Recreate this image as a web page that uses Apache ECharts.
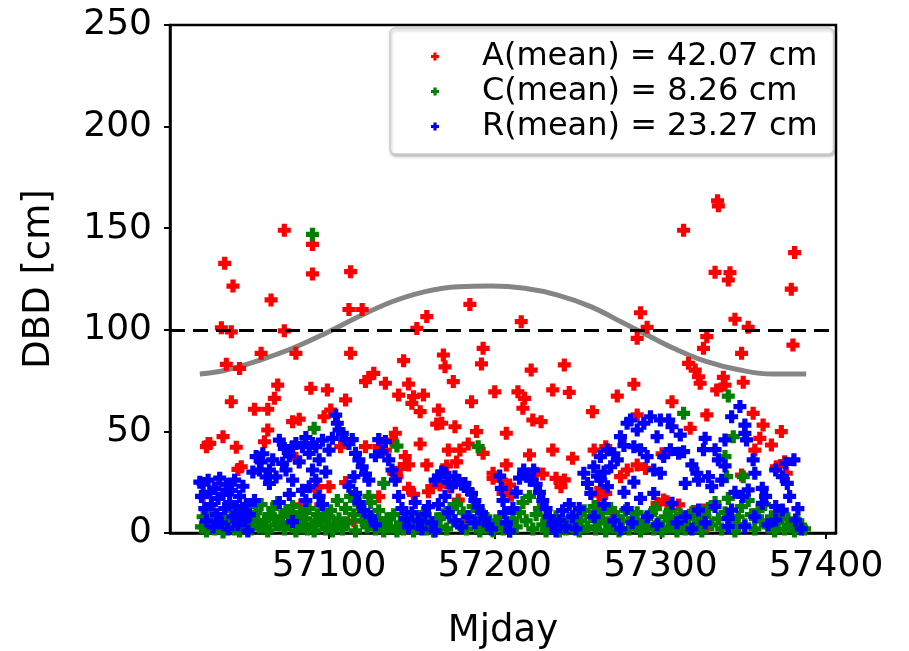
<!DOCTYPE html>
<html>
<head>
<meta charset="utf-8">
<script src="https://cdn.jsdelivr.net/npm/echarts@6/dist/echarts.min.js"></script>
<style>
html,body{margin:0;padding:0;background:#fff;}
#chart{width:909px;height:651px;}
</style>
</head>
<body>
<div id="chart"></div>
<script>
// ---------- data ----------
const xTicks = [57100, 57200, 57300, 57400];
const yTicks = [0, 50, 100, 150, 200, 250];
const threshold = 100;

// grey seasonal curve [Mjday, DBD]
const curveDays = [57022, 57038, 57058, 57078, 57098, 57118, 57138, 57158, 57178, 57198, 57218, 57238, 57258, 57278, 57292, 57308, 57328, 57348, 57368, 57388];
const curveVals = [78.2, 80.2, 85.0, 90.9, 98.3, 106.5, 113.8, 118.8, 121.2, 121.5, 120.4, 117.1, 111.4, 103.2, 97.4, 90.9, 84.3, 80.2, 78.2, 78.2];

// A (red)
const seriesA = [
[57073,149],[57090,142],[57037,132.7],[57042,121.5],[57090,127.5],[57113,128.6],[57065,114.7],[57112,110],[57120,110],
[57159,106.5],[57185,112.5],[57035,101],[57041,99],[57073,99.5],[57153,100.7],[57059,88.4],[57080,88.4],[57113,88.4],
[57038,83],[57046,81],[57145,84.8],[57169,87.6],[57170,81.8],[57193,90.9],[57192,83.2],[57175,74.5],[57200,69.5],
[57122,74.5],[57124,76.5],[57127,78.6],[57134,73.7],[57148,73.3],[57069,72.8],[57067,66.3],[57089,71.2],[57099,70.4],
[57041,64.6],[57055,60.9],[57063,60.9],[57110,65.5],[57142,67.9],[57151,67.1],[57157,67.9],[57150,63.8],[57155,59.7],
[57186,64.6],[57166,60.5],[57078,54.8],[57082,56],[57097,57.2],[57101,60.5],[57165,53.6],[57168,54],[57176,52.3],
[57063,50.7],[57189,49.9],[57027,44.1],[57036,47.4],[57044,42.2],[57061,44.9],[57107,42.5],[57122,42.5],[57130,42.5],
[57140,49.1],[57155,43.8],[57172,40.8],[57179,40.8],[57184,43.8],[57193,39.2],[57045,31.3],[57047,32.6],[57080,36.8],
[57146,37.6],[57148,33.5],[57143,31.8],[57159,33.5],[57171,33],[57199,29.4],[57033,23.6],[57024,17.9],[57093,22.8],
[57100,22.8],[57083,13.8],[57095,13.8],[57148,22],[57160,20.3],[57167,23.6],[57173,22.8],[57110,24.8],[57139,29.4],
[57138,45.7],[57134,40.8],[57177,35],[57141,27.7],[57151,19],[57162,22.8],[57204,26],[57178,16.2],[57130,17.9],
[57026,42.5],[57028,44.1],[57092,21.2],
[57314,149],[57381,138],[57333,128.3],[57342,128.1],[57341,124.5],[57379,120],[57288,108.4],[57216,104],[57345,105.2],
[57353,101.2],[57292,101.2],[57286,95.8],[57328,96.6],[57326,90.9],[57380,92.5],[57349,88.4],[57317,83.5],[57321,80.2],
[57323,76.9],[57324,73.7],[57338,76.6],[57339,72.8],[57334,70.4],[57350,74.2],[57222,80.2],[57242,82.7],[57214,69.5],
[57218,66.3],[57217,61.4],[57235,70.4],[57245,69.2],[57274,67.4],[57284,73.2],[57307,64.6],[57259,59.7],[57328,58.1],
[57356,58.9],[57223,55.6],[57228,54.8],[57207,49.1],[57318,51.5],[57362,53.1],[57373,49.9],[57360,46.6],[57367,43.3],
[57221,38.4],[57235,40.8],[57247,36.8],[57260,40.8],[57267,42.5],[57286,33.5],[57291,31.8],[57207,33.5],[57225,29.4],
[57237,26.9],[57242,26.1],[57240,22.8],[57199,26.9],[57209,23.6],[57205,19.5],[57311,13.8],[57302,16.2],[57298,14.6],
[57357,40.8],[57370,32.6],[57376,29.4],[57375,35.1],[57349,28.5],[57264,22],[57267,19.5],[57334.5,163.5],[57335,161],
[57286,58.1],[57229,29],[57210,18.6],[57263,18.6],[57262,13.1],[57280,31],[57276,27.7],[57301,39],[57271,10],
[57326,11.3],[57327,5],[57320,10.6],[57304,15.4],[57328,3],[57030,10],[57052,7],[57115,6],[57182,5],[57232,8],
[57290,6],[57346,4],[57371,9]
];

// C (green)
const seriesC = [
[57090,147],[57091,51.5],[57141,42.8],[57190,42.5],[57314,58.9],[57341,67.4],[57344,47.4],[57340,27.7],[57339,37.6],
[57133,24.4],[57124,18],[57350,27.7],
[57023,3],[57024,8],[57026,1],[57027,12],[57029,5],[57031,2],[57032,9],[57034,4],[57036,0.5],[57037,7],[57039,3],
[57041,11],[57043,2],[57044,6],[57046,1],[57048,9],[57049,4],[57051,13],[57053,2],[57054,7],[57056,10],[57058,3],
[57059,14],[57061,6],[57063,1],[57064,9],[57066,12],[57068,4],[57069,15],[57071,8],[57073,2],[57074,11],[57076,5],
[57078,13],[57080,1],[57081,8],[57083,10],[57085,3],[57086,7],[57088,12],[57090,4],[57091,1],[57093,9],[57095,6],
[57096,14],[57098,2],[57100,8],[57101,11],[57103,4],[57105,16],[57106,7],[57108,2],[57110,12],[57111,5],[57113,18],
[57115,9],[57116,1],[57118,14],[57120,6],[57121,10],[57123,3],[57125,15],[57126,8],[57128,2],[57130,11],[57131,5],
[57133,1],[57135,7],[57137,3],[57139,9],[57141,1],[57143,5],[57145,2],[57147,8],[57149,4],[57151,1],[57153,6],
[57155,3],[57157,10],[57159,2],[57161,5],[57163,1],[57165,7],[57167,3],[57169,9],[57171,2],[57173,12],[57175,6],
[57177,14],[57179,4],[57181,10],[57183,2],[57185,8],[57187,13],[57189,5],[57191,1],[57193,9],[57195,3],[57197,6],
[57199,1],[57201,4],[57203,8],[57205,2],[57207,5],[57209,1],[57211,7],[57213,3],[57215,10],[57217,15],[57219,6],
[57221,18],[57223,2],[57225,9],[57227,12],[57229,4],[57231,1],[57233,6],[57235,3],[57237,8],[57239,1],[57241,5],
[57243,2],[57245,7],[57247,3],[57249,9],[57251,1],[57252,6],[57254,11],[57256,3],[57258,8],[57260,13],[57261,2],
[57263,6],[57265,10],[57267,1],[57268,5],[57270,12],[57272,3],[57274,8],[57275,1],[57277,6],[57279,11],[57281,2],
[57283,7],[57285,4],[57286,10],[57288,1],[57290,6],[57292,3],[57294,9],[57296,2],[57297,12],[57299,5],[57301,1],
[57303,8],[57305,3],[57306,11],[57308,6],[57310,1],[57312,9],[57314,4],[57315,2],[57317,7],[57319,10],[57321,3],
[57323,6],[57325,1],[57327,8],[57329,12],[57331,4],[57333,15],[57335,7],[57337,2],[57339,10],[57341,17],[57343,5],
[57345,1],[57347,8],[57349,13],[57351,4],[57353,16],[57355,9],[57357,2],[57359,11],[57361,6],[57363,14],[57365,3],
[57367,8],[57369,1],[57371,5],[57373,10],[57375,2],[57377,7],[57379,4],[57381,1],[57383,6],[57385,3],[57387,2],
[57057,6],[57062,3],[57067,7],[57072,5],[57077,9],[57082,4],[57087,2],[57092,5],[57097,8],[57102,1]
];

// R (blue)
const seriesR = [
[57022,25],[57023,18],[57024,24.4],[57025,12],[57026,6],[57027,26],[57028,20],[57029,14],[57030,3],[57031,22],
[57032,9],[57033,17],[57034,27],[57035,5],[57036,19],[57037,12],[57038,24],[57039,2],[57040,15],[57041,21],[57042,8],
[57043,26],[57044,13],[57045,4],[57046,18],[57047,10],[57048,23],[57049,6],[57050,14],[57051,1],[57052,9],
[57054,30],[57056,37.6],[57058,31],[57059,35],[57060,39],[57062,27.6],[57064,31],[57064,24.4],[57066,36],[57068,27.6],
[57070,45.7],[57072,34.3],[57073,41.6],[57074,31],[57076,38],[57078,42.5],[57078,26],[57080,44],[57082,35],[57084,42.5],
[57084,21],[57086,47],[57088,39.2],[57088,22.8],[57090,44],[57092,42.5],[57094,36],[57096,45.7],[57098,30],[57100,40.8],
[57102,46.6],[57090,31],[57092,26],[57094,18],[57096,14],[57086,16],[57076,19],[57070,15],
[57055,16],[57078,5.6],
[57104,58],[57105,54],[57106,50.7],[57108,49],[57110,46],[57112,44],[57114,46],[57116,39.2],[57118,36],[57120,32.6],
[57122,29],[57124,26],[57115,27.7],[57112,23],[57116,19.5],[57118,15],[57121,11],[57125,8],[57128,4],
[57130,46],[57134,45],[57132,40],[57136,36],[57138,31],[57140,26],[57128,38],
[57142,18],[57144,12],[57146,7],[57148,3],[57150,10],[57152,15],[57154,6],[57156,2],[57158,9],[57160,13],[57162,5],[57164,1],
[57164,26],[57166,28],[57168,30],[57170,29.4],[57172,25],[57174,22.8],[57176,27.7],[57178,26],[57180,24],[57182,24.4],
[57184,21],[57186,19.5],[57188,16],[57190,13],[57192,10],[57194,7],[57196,4],[57198,2],[57170,18],[57166,14],
[57172,10],[57176,6],[57180,3],[57184,8],[57188,5],
[57203,28],[57204,22],[57205,16],[57206,10],[57207,5],[57209,1],[57211,12],[57213,20],[57215,27],[57217.5,31],
[57220,28],[57221.5,26],[57223.5,31],[57225,24],[57227,20],[57229,16],[57231,12],[57233,8],[57235,4],[57237,1],
[57239,6],[57241,11],[57243,3],[57245,14],[57247,8],[57249,2],
[57251,12],[57253.8,29.4],[57256,24.4],[57258,19.5],[57259.8,32.6],[57262,28],[57263.8,37.6],[57264,26],[57266,30],
[57268,22.8],[57267.9,41],[57270,32.6],[57271.9,39],[57274,36],[57275.9,47.4],[57278,43],[57279.9,54],[57282,55.6],
[57284,42.5],[57286,50.7],[57288,41],[57290,54],[57292,37.6],[57294,57.2],[57296,31],[57298,47.4],[57300,55.6],
[57300,29.4],[57302,37.6],[57296,19.5],[57260,8],[57266,14],[57272,6],[57278,20],[57280,12],[57284,25],[57288,17],
[57292,8],[57298,4],[57276,2],[57283,5],
[57305,55.6],[57307,52.3],[57312,48.2],[57306,41],[57311,39.2],[57314,40],[57319,33.5],[57322,29.4],[57327,46.6],
[57326,41],[57333,41],[57335,36],[57339,45.8],[57343,57.2],[57348,62.2],[57351,53.1],[57352,45.8],[57351,49],
[57329,27.7],[57331,22.8],[57323,26],[57315,24.4],[57339,33],[57337,26],[57356,36],[57357,29.4],[57353,21.2],
[57349.5,18],[57361.5,22],[57363.5,18],[57369.6,31],[57373.6,27.7],[57376.6,24.4],[57380.6,36],[57375.6,34.3],
[57361.5,14.6],[57369.6,13],[57373.6,11.3],[57381.6,6.4],[57369.6,6.4],[57357,8],[57343,11.3],[57341,7.2],[57333,13],
[57323,11.3],[57315,8],[57307,14.6],[57341,3.2],[57351,3.2],[57385,2],[57383,12],[57378,18],[57365,4],[57345,20],
[57327,5],[57319,2],[57310,5]
];

const names = ['A(mean) = 42.07 cm', 'C(mean) = 8.26 cm', 'R(mean) = 23.27 cm'];
const colors = ['#ff0000', '#008000', '#0000ff'];

// ---------- chart ----------
const PLUS = 'path://M3.6,0H8.4V3.6H12V8.4H8.4V12H3.6V8.4H0V3.6H3.6Z';
const FONT = 'DejaVu Sans';
const curve = curveDays.map((d, i) => [d, curveVals[i]]);

const chart = echarts.init(document.getElementById('chart'), null, {renderer: 'canvas'});
chart.setOption({
  animation: false,
  backgroundColor: '#ffffff',
  grid: {left: 170, right: 73, top: 25, bottom: 118, show: true, borderColor: '#000', borderWidth: 2.5,
         containLabel: false, outerBoundsMode: 'none'},
  legend: {
    orient: 'vertical', left: 390, top: 28,
    padding: [11, 16, 10, 41], itemGap: 0,
    itemWidth: 8, itemHeight: 8,
    backgroundColor: '#ffffff', borderColor: '#cccccc', borderWidth: 1.5, borderRadius: 5,
    shadowColor: 'rgba(0,0,0,0.25)', shadowBlur: 3, shadowOffsetX: 1, shadowOffsetY: 2,
    textStyle: {fontFamily: FONT, fontSize: 32, color: '#000', lineHeight: 35, padding: [0, 0, 0, 38]},
    data: names.map(n => ({name: n, icon: PLUS}))
  },
  xAxis: {
    type: 'value', min: 57004, max: 57406,
    name: 'Mjday', nameLocation: 'middle', nameGap: 80,
    nameTextStyle: {fontFamily: FONT, fontSize: 37, color: '#000'},
    axisLine: {show: true, onZero: false, lineStyle: {color: '#000', width: 2.5}},
    axisTick: {show: true, inside: false, length: 6, lineStyle: {color: '#000', width: 2}, customValues: xTicks},
    axisLabel: {fontFamily: FONT, fontSize: 36, color: '#000', margin: 16, customValues: xTicks,
                formatter: v => String(v)},
    splitLine: {show: false}
  },
  yAxis: {
    type: 'value', min: yTicks[0], max: yTicks[yTicks.length - 1], interval: 50,
    name: 'DBD [cm]', nameLocation: 'middle', nameGap: 112,
    nameTextStyle: {fontFamily: FONT, fontSize: 37, color: '#000'},
    axisLine: {show: true, onZero: false, lineStyle: {color: '#000', width: 2.5}},
    axisTick: {show: true, inside: false, length: 6, lineStyle: {color: '#000', width: 2}},
    axisLabel: {fontFamily: FONT, fontSize: 36, color: '#000', margin: 18},
    splitLine: {show: false}
  },
  series: [
    {
      type: 'line', data: curve, smooth: 0.4, symbol: 'none', z: 1, silent: true,
      lineStyle: {color: '#858585', width: 5},
      markLine: {
        silent: true, symbol: 'none', label: {show: false},
        lineStyle: {color: '#000', width: 3, type: [15, 8]},
        data: [{yAxis: threshold}]
      }
    },
    {name: names[0], type: 'scatter', data: seriesA, symbol: PLUS, symbolSize: 13, z: 3,
     itemStyle: {color: colors[0], opacity: 1}},
    {name: names[1], type: 'scatter', data: seriesC, symbol: PLUS, symbolSize: 13, z: 4,
     itemStyle: {color: colors[1], opacity: 1}},
    {name: names[2], type: 'scatter', data: seriesR, symbol: PLUS, symbolSize: 13, z: 5,
     itemStyle: {color: colors[2], opacity: 1}}
  ]
});
</script>
</body>
</html>
